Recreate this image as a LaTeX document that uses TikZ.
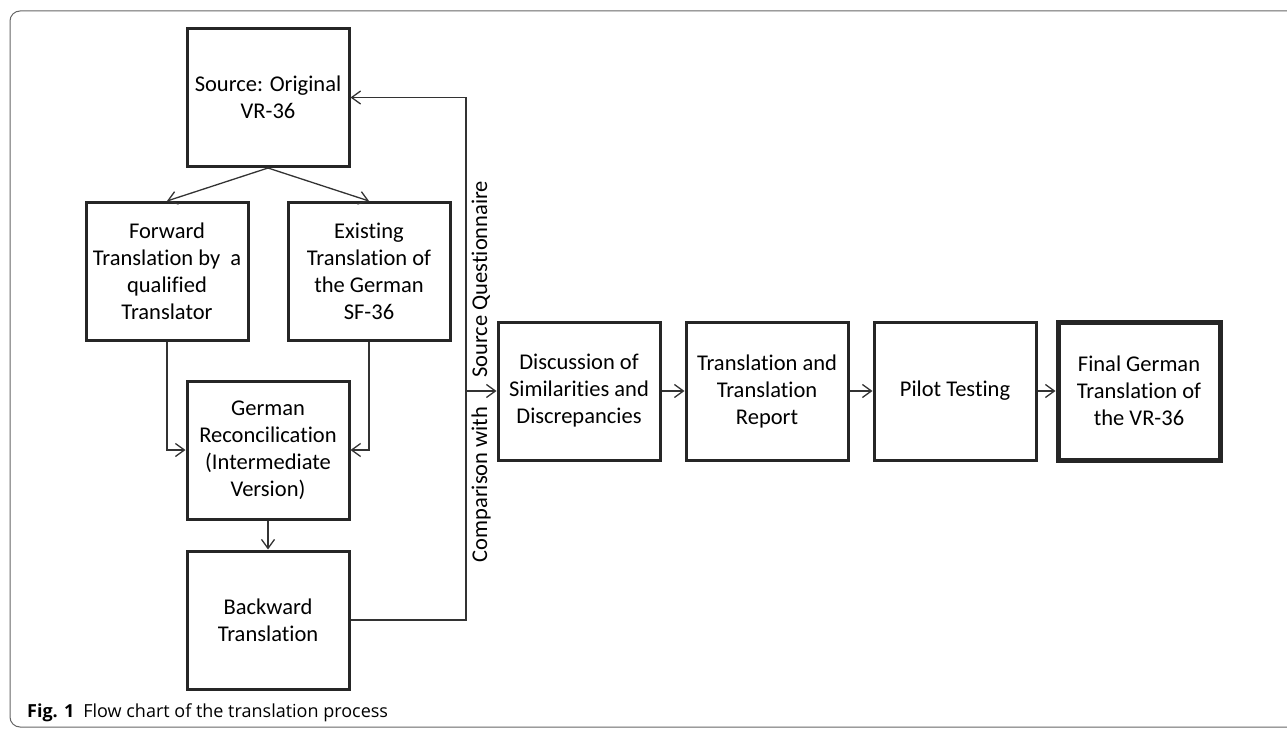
\documentclass[tikz,border=0pt]{standalone}
\usepackage{fontspec}
\setmainfont{Carlito}[Ligatures=NoCommon]
\newfontfamily\captionfont{Open Sans}
\usetikzlibrary{positioning,arrows.meta}

\begin{document}
\begin{tikzpicture}[x=1pt, y=1pt,
            level distance=174pt,
            sibling distance=202pt,
            parent anchor=south, child anchor=north,
            box/.style={draw=black!85, line width=3pt, rectangle, minimum width=162pt, minimum height=138pt, inner sep=3pt, align=center, font=\fontsize{22.5}{27}\selectfont},
            final/.style={box, line width=5pt},
            link/.style={draw=black!80, line width=1.3pt, -{Straight Barb[length=9pt,width=13pt]}},
            note/.style={rotate=90, inner sep=0pt, font=\fontsize{22.5}{27}\selectfont},
            every child node/.style={box},
            edge from parent/.style={link}
        ]
        \useasboundingbox (0,0) rectangle (1287,-730);

        % Frame and caption
        \draw[black!60, line width=1pt, rounded corners=10pt] (1295,-11) -- (10,-11) -- (10,-727) -- (1295,-727);
        \node[anchor=base west, inner sep=0pt, font=\captionfont\fontsize{18}{20}\selectfont] (caption) at (27,-717) {\textbf{Fig. 1}\hspace{9pt}Flow chart of the translation process};

        \node[box] (source) at (268,-97.5) {Source: Original\\VR-36}
        % First level
        child {node (forward) {Forward\\Translation by\ \ a\\qualified\\Translator}}
        child {node (existing) {Existing\\Translation of\\the German\\SF-36}};

        \node[box] (reconcile) at (268,-450) {German\\Reconcilication\\(Intermediate\\Version)};
        \node[box, below=29pt of reconcile] (backward) {Backward\\Translation};

        % Second row
        \node[box] (discuss) at (579,-391) {Discussion of\\Similarities and\\Discrepancies};
        \node[box, right=23pt of discuss] (report) {Translation and\\Translation\\Report};
        \node[box, right=23pt of report] (pilot) {Pilot Testing};
        \node[final, right=18pt of pilot] (final) {Final German\\Translation of\\the VR-36};

        % Additional edges
        \draw[link] (forward.south) |- (reconcile.west);
        \draw[link] (existing.south) |- (reconcile.east);
        \draw[link] (reconcile) -- (backward);
        \coordinate (tap) at (466,-391);
        \draw[link] (backward.east) -| (tap) |- (source.east);
        \draw[link] (tap) -- (discuss);
        \draw[link] (discuss) -- (report);
        \draw[link] (report) -- (pilot);
        \draw[link] (pilot) -- (final);
        \node[note] (compare) at (481,-371.5) {Comparison with\hspace{29pt}Source Questionnaire};

        \end{tikzpicture}
\end{document}
